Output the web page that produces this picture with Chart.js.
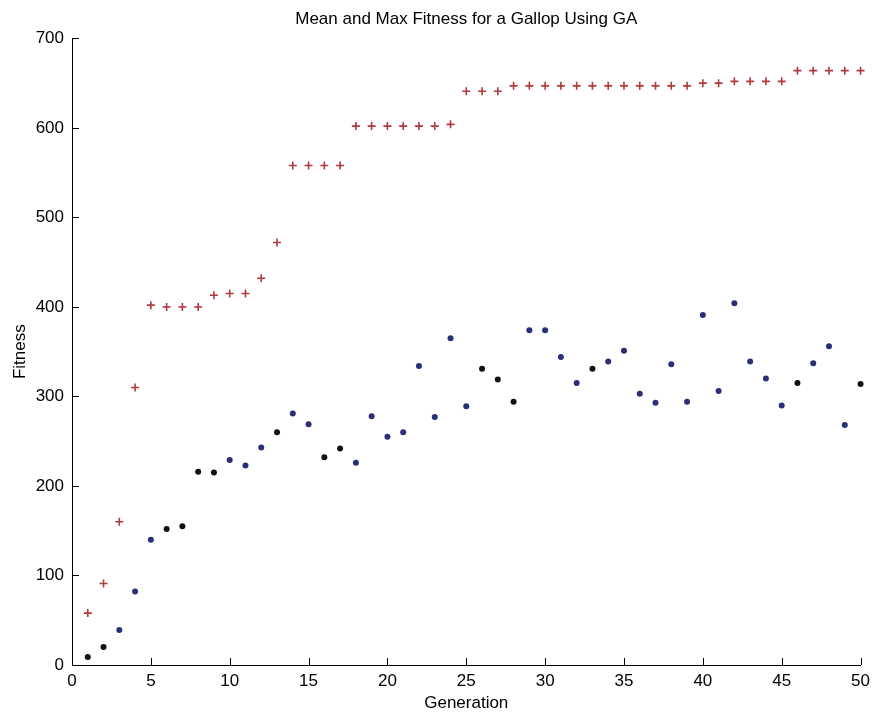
<!DOCTYPE html>
<html>
<head>
<meta charset="utf-8">
<script src="https://cdn.jsdelivr.net/npm/chart.js@4.4.1/dist/chart.umd.min.js"></script>
<style>
  body { margin: 0; background: #fff; }
  #wrap { width: 876px; height: 714px; }
</style>
</head>
<body>
<div id="wrap"><canvas id="myChart" width="876" height="714"></canvas></div>
<script>
// generations 1..50
var generations = [];
for (var g = 1; g <= 50; g++) generations.push(g);

var maxFitness = [
    58, 91, 160, 310, 402, 400, 400, 400, 413, 415,
    415, 432, 472, 558, 558, 558, 558, 602, 602, 602,
    602, 602, 602, 604, 641, 641, 641, 647, 647, 647,
    647, 647, 647, 647, 647, 647, 647, 647, 647, 650,
    650, 652, 652, 652, 652, 664, 664, 664, 664, 664
];

var meanFitness = [
    9, 20, 39, 82, 140, 152, 155, 216, 215, 229,
    223, 243, 260, 281, 269, 232, 242, 226, 278, 255,
    260, 334, 277, 365, 289, 331, 319, 294, 374, 374,
    344, 315, 331, 339, 351, 303, 293, 336, 294, 391,
    306, 404, 339, 320, 290, 315, 337, 356, 268, 314
];

// generations whose mean dot came out black instead of blue
var blackDots = [1, 2, 6, 7, 8, 9, 13, 16, 17, 26, 27, 28, 33, 46, 50];

var xTicks = [0, 5, 10, 15, 20, 25, 30, 35, 40, 45, 50];
var yTicks = [0, 100, 200, 300, 400, 500, 600, 700];

var FONT = "'Liberation Sans', Arial, Helvetica, sans-serif";

function pts(ys) {
    return generations.map(function(x, i) { return { x: x, y: ys[i] }; });
}

// matlab style ticks pointing into the axes
var innerTicks = {
    id: 'innerTicks',
    afterDraw: function(chart) {
        var ctx = chart.ctx, xs = chart.scales.x, ys = chart.scales.y;
        ctx.save();
        ctx.strokeStyle = '#000';
        ctx.lineWidth = 1;
        ctx.beginPath();
        xTicks.forEach(function(v) {
            var px = Math.round(xs.getPixelForValue(v)) + 0.5;
            ctx.moveTo(px, ys.bottom);
            ctx.lineTo(px, ys.bottom - 7);
        });
        yTicks.forEach(function(v) {
            var py = Math.round(ys.getPixelForValue(v)) + 0.5;
            ctx.moveTo(xs.left, py);
            ctx.lineTo(xs.left + 7, py);
        });
        ctx.stroke();
        ctx.restore();
    }
};

var ctx = document.getElementById('myChart').getContext('2d');
var myChart = new Chart(ctx, {
    type: 'scatter',
    data: {
        datasets: [
            {
                label: 'Max',
                data: pts(maxFitness),
                pointStyle: 'cross',
                pointRadius: 4,
                borderWidth: 1.6,
                borderColor: '#b0393b',
                backgroundColor: '#b0393b',
                clip: false
            },
            {
                label: 'Mean',
                data: pts(meanFitness),
                pointStyle: 'circle',
                pointRadius: 3,
                borderWidth: 0,
                backgroundColor: generations.map(function(g) {
                    return blackDots.indexOf(g) >= 0 ? '#111111' : '#2b2f78';
                }),
                clip: false
            }
        ]
    },
    options: {
        responsive: false,
        animation: false,
        layout: { padding: { left: 0, right: 12, top: 0, bottom: 0 } },
        plugins: {
            legend: { display: false },
            tooltip: { enabled: false },
            title: {
                display: true,
                fullSize: false,
                text: 'Mean and Max Fitness for a Gallop Using GA',
                color: '#000',
                font: { family: FONT, size: 17, weight: 'normal' },
                padding: { top: 9, bottom: 9 }
            }
        },
        scales: {
            x: {
                type: 'linear',
                min: 0,
                max: 50,
                afterBuildTicks: function(s) { s.ticks = xTicks.map(function(v) { return { value: v }; }); },
                afterFit: function(s) { s.height = 49; },
                grid: { display: false, drawTicks: false },
                border: { display: true, color: '#000', width: 1 },
                ticks: { color: '#000', padding: 6, maxRotation: 0, font: { family: FONT, size: 17 } },
                title: {
                    display: true,
                    text: 'Generation',
                    color: '#000',
                    font: { family: FONT, size: 17 },
                    padding: { top: 0, bottom: 0 }
                }
            },
            y: {
                type: 'linear',
                min: 0,
                max: 700,
                afterBuildTicks: function(s) { s.ticks = yTicks.map(function(v) { return { value: v }; }); },
                afterFit: function(s) { s.width = 72; },
                grid: { display: false, drawTicks: false },
                border: { display: true, color: '#000', width: 1 },
                ticks: { color: '#000', padding: 8, font: { family: FONT, size: 17 } },
                title: {
                    display: true,
                    text: 'Fitness',
                    color: '#000',
                    font: { family: FONT, size: 17 },
                    padding: { top: 10, bottom: 0 }
                }
            }
        }
    },
    plugins: [innerTicks]
});
</script>
</body>
</html>
